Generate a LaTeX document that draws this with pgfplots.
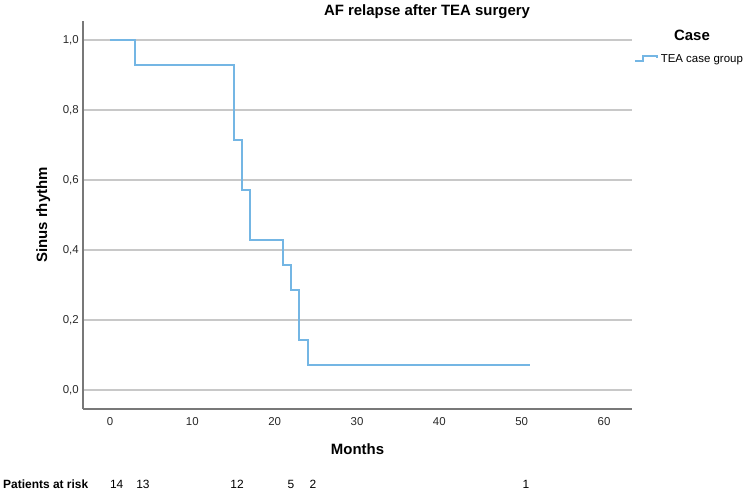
\documentclass[border=0pt]{standalone}
\usepackage{pgfplots}
\pgfplotsset{compat=1.18}
\usepackage{fontspec}
\setmainfont{Liberation Sans}

\definecolor{kmblue}{RGB}{116,182,228}
\definecolor{gridgray}{RGB}{200,200,200}
\definecolor{axisgray}{RGB}{120,120,120}
\definecolor{ticktext}{RGB}{40,40,40}

\newcommand{\lblfont}{\fontsize{11.5}{13}\selectfont}
\newcommand{\headfont}{\fontsize{15}{17}\selectfont\bfseries}

\begin{document}
\begin{tikzpicture}[x=1bp,y=1bp]
  % page frame
  \path (0,0) rectangle (752,493);

  \begin{axis}[
    at={(83bp,84bp)}, anchor=south west,
    scale only axis,
    width=549bp, height=388bp,
    xmin=-3.28, xmax=63.4,
    ymin=-0.0543, ymax=1.054,
    axis lines*=left,
    axis line style={axisgray, line width=1.4bp},
    xtick={0,10,...,60},
    ytick={0,0.2,...,1.0},
    major tick length=0pt,
    ymajorgrids,
    grid style={gridgray, line width=1.3bp},
    tick label style={font=\lblfont, text=ticktext},
    xticklabel style={inner sep=0pt, yshift=-8.5bp},
    yticklabel style={inner sep=0pt, xshift=-4bp},
    /pgf/number format/assume math mode=true,
    yticklabel style={/pgf/number format/.cd, use comma, fixed, fixed zerofill, precision=1},
    legend style={draw=none, fill=none, inner sep=0pt, font=\lblfont,
      at={(axis description cs:1.0036,0.902)}, anchor=west,
      nodes={inner sep=1bp}},
    legend image code/.code={
      \draw[kmblue, line width=1.6bp]
        (0bp,-2bp) -- (8bp,-2bp) -- (8bp,3bp) -- (22bp,3bp) -- (22bp,1bp);
    },
    /tikz/every odd column/.append style={column sep=2bp},
    clip=false,
  ]
    % Kaplan-Meier estimate of sinus rhythm (n = 14)
    \addplot[kmblue, line width=2bp, const plot, line join=miter] coordinates {
      (0,1.0000) (3,0.9286) (15,0.7143) (16,0.5714) (17,0.4286)
      (21,0.3571) (22,0.2857) (23,0.1429) (24,0.0714) (51,0.0714)
    };
    \addlegendentry{TEA case group}
  \end{axis}

  % titles and labels
  \node[anchor=base, font=\headfont] at (427,477.5) {AF relapse after TEA surgery};
  \node[anchor=base, font=\headfont] at (357.5,38) {Months};
  \node[anchor=base, font=\headfont, rotate=90] at (47,278) {Sinus rhythm};
  \node[anchor=base, font=\headfont] at (692,452) {Case};

  % number at risk
  \node[anchor=base west, inner sep=0pt, font=\fontsize{12}{14}\selectfont\bfseries] at (3,4) {Patients at risk};
  \foreach \px/\n in {116.7/14, 143/13, 237/12, 291/5, 313/2, 526/1}
    \node[anchor=base, inner sep=0pt, font=\fontsize{12}{14}\selectfont] at (\px,4) {\n};
\end{tikzpicture}
\end{document}
